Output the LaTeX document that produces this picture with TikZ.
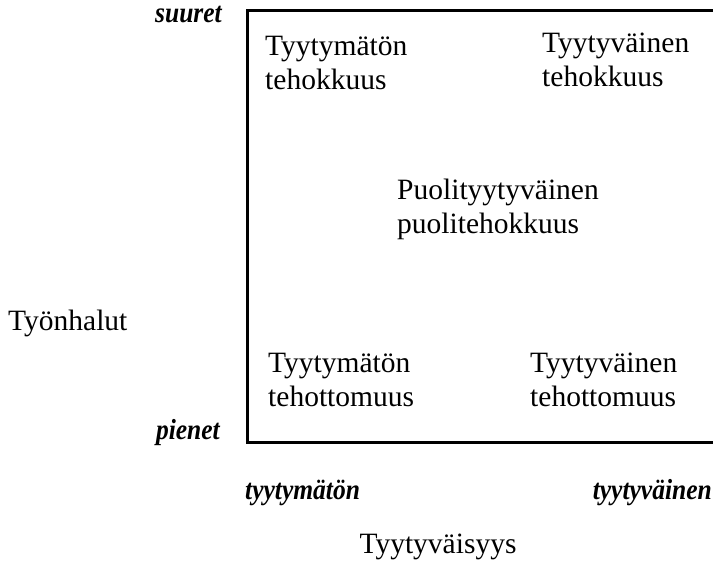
\documentclass[tikz,border=0pt]{standalone}
\usepackage{fontspec}
\setmainfont{Liberation Serif}
\newfontfamily\condserif[FakeStretch=0.88]{Liberation Serif}
\begin{document}
\begin{tikzpicture}[x=1pt,y=-1pt,
  lbl/.style={inner sep=0pt,font=\fontsize{29.5}{34}\selectfont,align=left},
  ital/.style={inner sep=0pt,font=\condserif\fontsize{29}{32}\selectfont\bfseries\itshape},
  frame/.style={line width=3pt}]
\useasboundingbox (0,0) rectangle (713,561);
\coordinate (tl) at (247,11);
\coordinate (tr) at (716,11);
\coordinate (bl) at (247,443);
\coordinate (br) at (716,443);
\draw[frame] (tr) -- (tl) -- (bl) -- (br);
\node[ital,anchor=base east] (suuret) at (222,23) {suuret};
\node[ital,anchor=base east] (pienet) at (220,440) {pienet};
\node[lbl,anchor=base west] (tyohalut) at (8,331) {Työnhalut};
\node[lbl,anchor=base west] (q1) at (265,90) {Tyytymätön\\tehokkuus};
\node[lbl,anchor=base west] (q2) at (542,87) {Tyytyväinen\\tehokkuus};
\node[lbl,anchor=base west] (q3) at (397,234) {Puolityytyväinen\\puolitehokkuus};
\node[lbl,anchor=base west] (q4) at (268,407) {Tyytymätön\\tehottomuus};
\node[lbl,anchor=base west] (q5) at (530,407) {Tyytyväinen\\tehottomuus};
\node[ital,anchor=base west] (tm) at (245,500) {tyytymätön};
\node[ital,anchor=base east] (tv) at (712,500) {tyytyväinen};
\node[lbl,anchor=base] (tyyt) at (438,553) {Tyytyväisyys};
\end{tikzpicture}
\end{document}
